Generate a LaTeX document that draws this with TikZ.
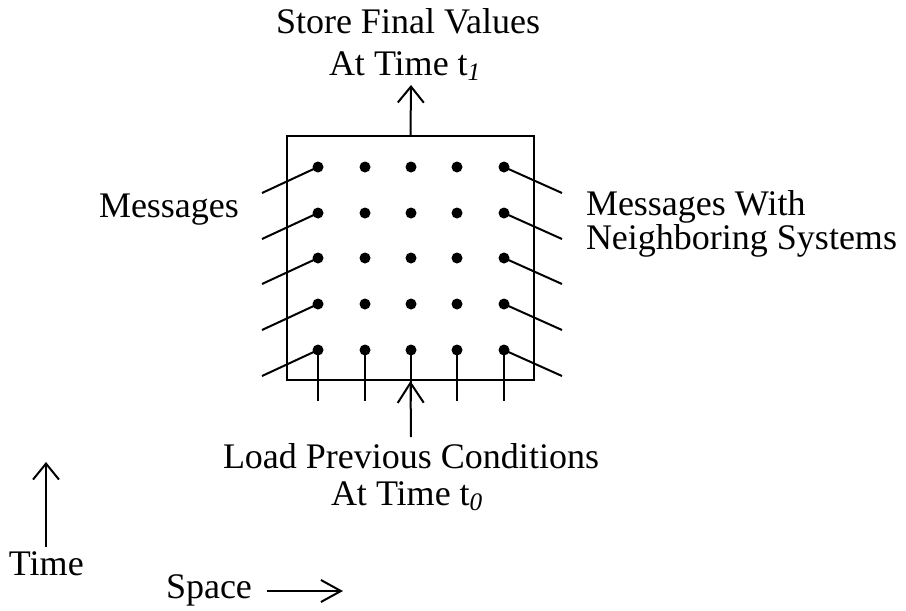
\documentclass[tikz,border=0pt]{standalone}
\usepackage{fontspec}
\setmainfont{Liberation Serif}
\usetikzlibrary{arrows.meta}

\begin{document}
\begin{tikzpicture}[x=0.5pt,y=-0.5pt,line width=1pt,
  lbl/.style={font=\fontsize{18}{21}\selectfont, inner sep=0pt, anchor=base west},
  gridpt/.style={circle, fill, inner sep=0pt, minimum size=5.5pt},
  barb/.style={-{Straight Barb[length=8pt,width=13pt]}},
]
\useasboundingbox (0,0) rectangle (906,611);

% the system box
\node[draw, minimum width=123.5pt, minimum height=122pt, inner sep=0pt] (box) at (410.5,258) {};

% 5x5 grid of points
\foreach \c/\x in {1/318,2/365,3/411,4/457,5/504}
  \foreach \r/\y in {1/167,2/213,3/258,4/304,5/350}
    \node[gridpt] (d\c\r) at (\x,\y) {};

% message lines on both sides
\foreach \r in {1,...,5} {
  \draw (d1\r.center) -- ++(-56,26);
  \draw (d5\r.center) -- ++(58,26);
}
% initial-condition lines below the bottom row
\foreach \c in {1,...,5}
  \draw (d\c5.center) -- ++(0,51);

% store / load arrows
\coordinate (storetip) at (411,85);
\coordinate (loadtail) at (411,437);
\draw[barb] (box.north) -- (storetip);
\draw[-{Straight Barb[length=10pt,width=13pt]}] (loadtail) -- (box.south);

% labels
\node[lbl] (store1) at (275,33) {Store Final Values};
\node[lbl] (store2) at (328,75) {At Time t\textsubscript{\itshape 1}};
\node[lbl] (load1) at (222,468) {Load Previous Conditions};
\node[lbl] (load2) at (330,505) {At Time t\textsubscript{\itshape 0}};
\node[lbl] (msgl) at (98,217) {Messages};
\node[lbl] (msgr1) at (585,215) {Messages With};
\node[lbl] (msgr2) at (585,249) {Neighboring Systems};

% axes
\node[lbl] (time) at (8,575) {Time};
\node[lbl] (space) at (165,598) {Space};
\coordinate (timetail) at (46,547);
\coordinate (timetip) at (46,462);
\draw[barb] (timetail) -- (timetip);
\coordinate (spacetail) at (267,591);
\coordinate (spacetip) at (343,591);
\draw[-{Straight Barb[length=10pt,width=11pt]}] (spacetail) -- (spacetip);
\end{tikzpicture}
\end{document}
